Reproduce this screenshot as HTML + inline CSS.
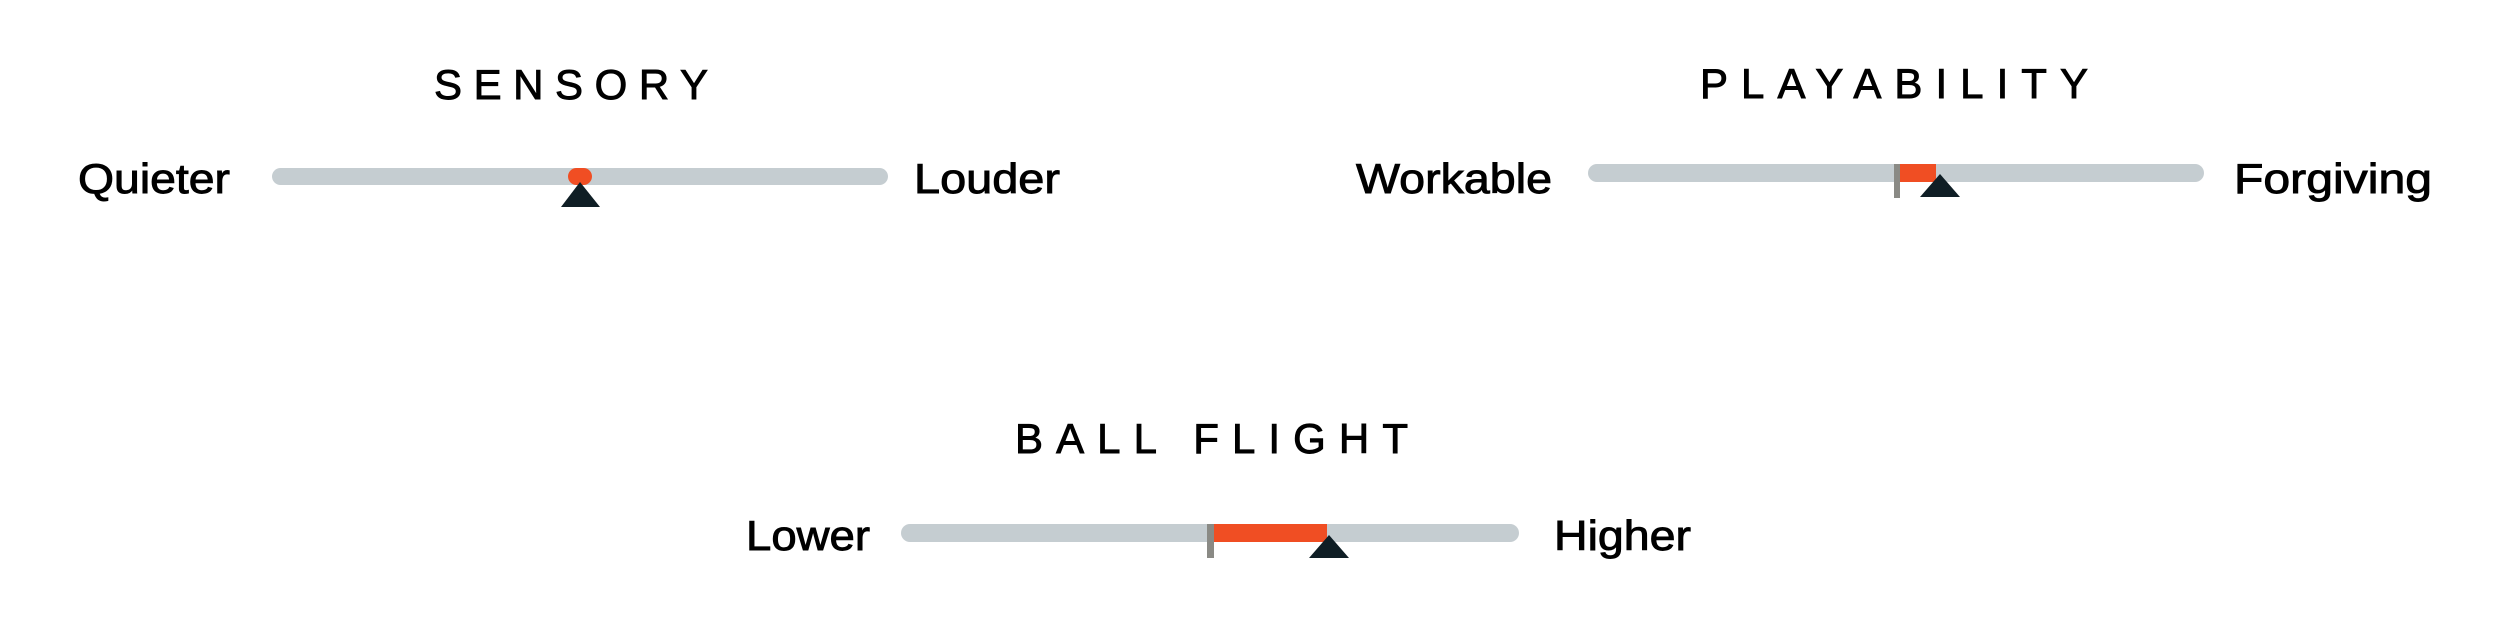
<!DOCTYPE html>
<html><head><meta charset="utf-8"><style>html,body{margin:0;padding:0;background:#fff}svg{display:block}</style></head>
<body>
<svg width="2500" height="625" viewBox="0 0 2500 625" xmlns="http://www.w3.org/2000/svg" font-family="'Liberation Sans', sans-serif" fill="#000" stroke="#000" stroke-width="0.9">
<!-- SENSORY -->
<text x="434" y="99" font-size="42" textLength="274" lengthAdjust="spacing">SENSORY</text>
<text x="78" y="193" font-size="42" textLength="152" lengthAdjust="spacingAndGlyphs">Quieter</text>
<text x="914" y="193" font-size="42" textLength="146" lengthAdjust="spacingAndGlyphs">Louder</text>
<g stroke="none">
<rect x="272" y="168" width="616" height="17" rx="8.5" fill="#c5cdd1"/>
<rect x="568" y="168" width="24" height="17" rx="8.5" fill="#f04e23"/>
<polygon points="580,182 561,207 600,207" fill="#0f1e25"/>
</g>
<!-- PLAYABILITY -->
<text x="1700" y="98" font-size="42" textLength="388" lengthAdjust="spacing">PLAYABILITY</text>
<text x="1356" y="193" font-size="42" textLength="196" lengthAdjust="spacingAndGlyphs">Workable</text>
<text x="2234" y="193" font-size="42" textLength="198" lengthAdjust="spacingAndGlyphs">Forgiving</text>
<g stroke="none">
<rect x="1588" y="164" width="616" height="18" rx="9" fill="#c5cdd1"/>
<rect x="1900" y="164" width="36" height="18" fill="#f04e23"/>
<rect x="1894" y="164" width="6" height="34" fill="#8a8a85"/>
<polygon points="1940,174 1920,197 1960,197" fill="#0f1e25"/>
</g>
<!-- BALL FLIGHT -->
<text x="1015" y="453" font-size="42" textLength="393" lengthAdjust="spacing">BALL FLIGHT</text>
<text x="746" y="550" font-size="42" textLength="124" lengthAdjust="spacingAndGlyphs">Lower</text>
<text x="1554" y="550" font-size="42" textLength="137" lengthAdjust="spacingAndGlyphs">Higher</text>
<g stroke="none">
<rect x="901" y="524" width="618" height="18" rx="9" fill="#c5cdd1"/>
<rect x="1214" y="524" width="113" height="18" fill="#f04e23"/>
<rect x="1207" y="524" width="7" height="34" fill="#8a8a85"/>
<polygon points="1329,535 1309,558 1349,558" fill="#0f1e25"/>
</g>
</svg>
</body></html>
